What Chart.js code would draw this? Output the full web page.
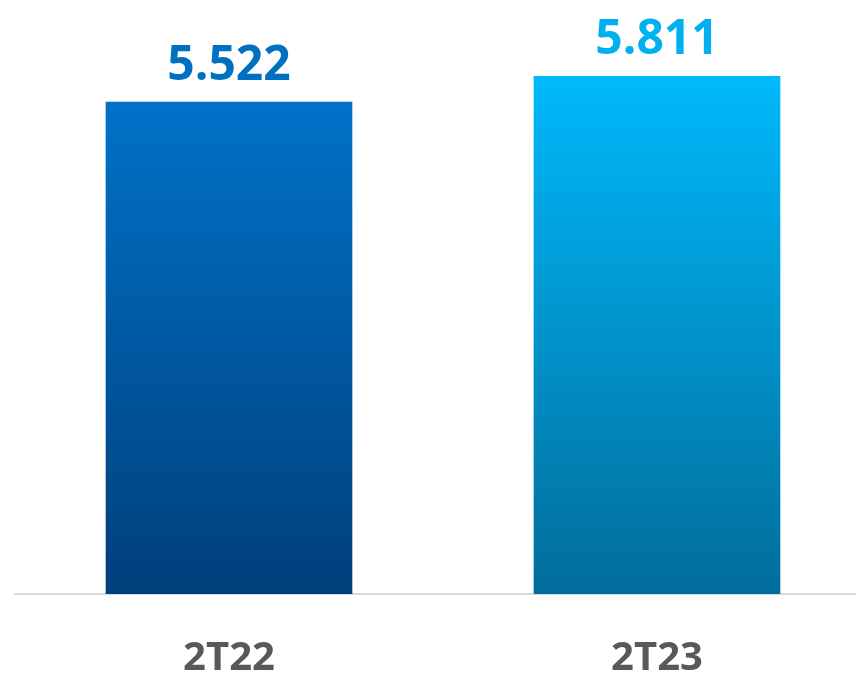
<!DOCTYPE html>
<html>
<head>
<meta charset="utf-8">
<script src="https://cdn.jsdelivr.net/npm/chart.js@4/dist/chart.umd.min.js"></script>
<style>
  html, body { margin: 0; padding: 0; background: #fff; overflow: hidden; }
  #wrap { width: 856px; height: 680px; }
</style>
</head>
<body>
<div id="wrap"><canvas id="chart"></canvas></div>
<script>
// values
const periods = ['2T22', '2T23'];
const values = [5.522, 5.811];
const positions = [0, 1];
const labelColors = ['#0070c0', '#00b0f0'];
const topColors = ['#0072c8', '#00b9fb'];
const bottomColors = ['#003f7a', '#016d9a'];

const ctx = document.getElementById('chart').getContext('2d');

function barGradient(context) {
  const chart = context.chart;
  const area = chart.chartArea;
  if (!area) return topColors[context.dataIndex];
  const y = chart.scales.y;
  const i = context.dataIndex;
  const g = chart.ctx.createLinearGradient(0, y.getPixelForValue(values[i]), 0, y.getPixelForValue(0));
  g.addColorStop(0, topColors[i]);
  g.addColorStop(1, bottomColors[i]);
  return g;
}

// value label above each bar
const valueLabels = {
  id: 'valueLabels',
  afterDatasetsDraw(chart) {
    const c = chart.ctx;
    const meta = chart.getDatasetMeta(0);
    c.save();
    c.font = 'bold 48px "Open Sans"';
    c.textAlign = 'center';
    c.textBaseline = 'alphabetic';
    meta.data.forEach((bar, i) => {
      c.fillStyle = labelColors[i];
      c.fillText(values[i].toFixed(3), bar.x, bar.y - 22);
    });
    c.restore();
  }
};

new Chart(ctx, {
  type: 'bar',
  data: {
    datasets: [{
      data: positions.map((p, i) => ({ x: p, y: values[i] })),
      backgroundColor: barGradient,
      borderWidth: 0,
      barThickness: 246
    }]
  },
  options: {
    responsive: true,
    maintainAspectRatio: false,
    animation: false,
    layout: { padding: { left: 15, top: 15, right: 0, bottom: 0 } },
    plugins: {
      legend: { display: false },
      tooltip: { enabled: false }
    },
    scales: {
      x: {
        type: 'linear',
        min: -0.5,
        max: 1.465,
        offset: false,
        bounds: 'data',
        grace: 0,
        grid: { display: false, drawTicks: false, offset: false },
        border: { display: true, color: '#d9d9d9', width: 2 },
        afterBuildTicks: scale => { scale.ticks = positions.map(v => ({ value: v })); },
        afterFit: scale => { scale.height = 86; },
        ticks: {
          padding: 41,
          color: '#595959',
          font: { family: 'Open Sans', size: 40, weight: 'bold' },
          maxRotation: 0,
          autoSkip: false,
          callback: v => periods[v]
        }
      },
      y: {
        display: false,
        min: 0,
        max: 6.5
      }
    }
  },
  plugins: [valueLabels]
});
</script>
</body>
</html>
